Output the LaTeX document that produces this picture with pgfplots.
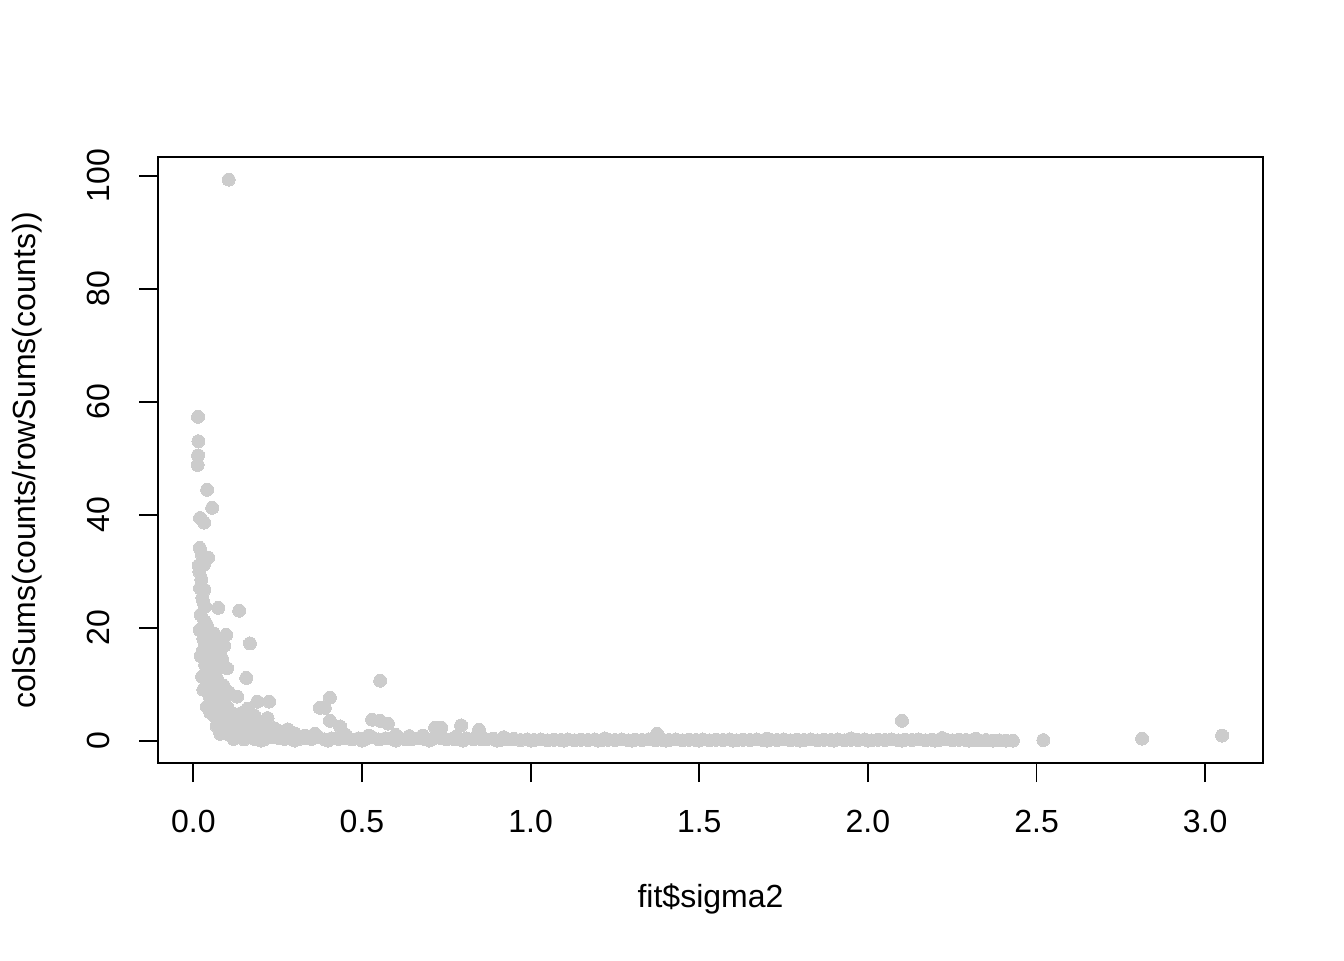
\documentclass[border=0pt]{standalone}
\usepackage{pgfplots}
\pgfplotsset{compat=1.18}
\usepackage{fontspec}
\setmainfont{Liberation Sans}
\definecolor{ptgray}{HTML}{CCCCCC}
\begin{document}
\begin{tikzpicture}
\begin{axis}[
  scale only axis,
  width=442pt, height=242.4pt,
  xmin=-0.1047, xmax=3.1714,
  ymin=-3.97, ymax=103.3,
  xtick={0,0.5,1,1.5,2,2.5,3},
  ytick={0,20,40,60,80,100},
  xtick pos=bottom, ytick pos=left,
  tick align=outside,
  major tick length=7.6pt,
  axis line style={line width=0.75pt},
  every tick/.style={line width=0.75pt, black},
  clip=false,
  font=\fontsize{12.8}{15.4}\selectfont,
  /pgf/number format/assume math mode=true,
  xticklabel style={/pgf/number format/.cd, fixed, fixed zerofill, precision=1, /tikz/.cd, anchor=base, inner sep=0pt},
  yticklabel style={rotate=90, anchor=south, inner sep=0pt},
  xticklabel shift=20.2pt,
  yticklabel shift=11.3pt,
  xlabel={fit\$sigma2},
  ylabel={colSums(counts/rowSums(counts))},
  xlabel style={at={(axis description cs:0.5,-0.2244)}, anchor=center, inner sep=0pt},
  ylabel style={at={(axis description cs:-0.1186,0.5)}, anchor=center, inner sep=0pt},
]
\path (rel axis cs:-0.14299,-0.3251) rectangle (rel axis cs:1.0733,1.2591);
\addplot[only marks, mark=*, mark size=2.6pt, mark options={fill=ptgray, draw=ptgray, line width=0pt}] table {
x y
0.25 0.5
0.27 0.3
0.29 0.6
0.31 0.2
0.33 0.5
0.35 0.3
0.37 0.7
0.39 0.2
0.41 0.4
0.43 0.3
0.45 0.5
0.47 0.2
0.49 0.4
0.51 0.3
0.53 0.6
0.55 0.2
0.57 0.4
0.59 0.3
0.61 0.5
0.63 0.2
0.65 0.3
0.67 0.4
0.69 0.2
0.71 0.3
0.73 0.5
0.75 0.2
0.77 0.3
0.79 0.2
0.81 0.4
0.83 0.2
0.85 0.3
0.87 0.2
0.89 0.3
0.91 0.1
0.93 0.2
0.95 0.3
0.97 0.1
0.99 0.2
1.01 0.1
1.03 0.2
1.05 0.05
1.07 0.15
1.09 0.1
1.11 0.2
1.13 0.05
1.15 0.15
1.17 0.1
1.19 0.2
1.21 0.05
1.23 0.15
1.25 0.1
1.27 0.2
1.29 0.05
1.31 0.15
1.33 0.1
1.35 0.2
1.37 0.05
1.39 0.15
1.41 0.1
1.43 0.2
1.45 0.05
1.47 0.15
1.49 0.1
1.51 0.2
1.53 0.05
1.55 0.15
1.57 0.1
1.59 0.2
1.61 0.05
1.63 0.15
1.65 0.1
1.67 0.2
1.69 0.05
1.71 0.15
1.73 0.1
1.75 0.2
1.77 0.05
1.79 0.15
1.81 0.1
1.83 0.2
1.85 0.05
1.87 0.15
1.89 0.1
1.91 0.2
1.93 0.05
1.95 0.15
1.97 0.1
1.99 0.2
2.01 0.05
2.03 0.15
2.05 0.1
2.07 0.2
2.09 0.05
2.11 0.15
2.13 0.1
2.15 0.2
2.17 0.05
2.19 0.15
2.21 0.1
2.23 0.2
2.25 0.05
2.27 0.15
2.29 0.1
2.31 0.1
2.33 0.05
2.35 0.1
2.37 0.0
2.39 0.05
2.41 0.0
2.43 0.0
0.2 0.0
0.3 0.0
0.4 0.0
0.5 0.0
0.6 0.0
0.7 0.0
0.8 0.0
0.9 0.0
1.0 0.0
1.1 0.0
1.2 0.0
1.3 0.0
1.4 0.0
1.5 0.0
1.6 0.0
1.7 0.0
1.8 0.0
1.9 0.0
2.0 0.0
2.1 0.0
2.2 0.0
2.3 0.0
1.38 0.4
1.95 0.4
2.22 0.45
2.32 0.3
0.36 1.0
0.45 1.1
0.52 0.9
0.60 1.0
0.64 0.8
0.68 0.9
0.78 0.7
0.84 0.8
0.92 0.6
1.22 0.4
1.70 0.35
0.014 57.3
0.015 53.0
0.014 50.5
0.013 48.8
0.041 44.4
0.056 41.2
0.020 39.4
0.032 38.6
0.019 34.1
0.025 33.0
0.044 32.4
0.031 31.1
0.018 29.9
0.024 28.5
0.033 26.7
0.027 25.3
0.035 23.7
0.074 23.5
0.136 23.0
0.022 22.3
0.033 21.1
0.019 19.6
0.047 18.6
0.097 18.7
0.168 17.2
0.033 16.5
0.080 15.9
0.022 15.0
0.064 14.9
0.092 16.8
0.056 13.8
0.035 13.4
0.080 13.1
0.044 12.2
0.026 11.3
0.157 11.1
0.554 10.6
0.056 10.1
0.035 9.4
0.064 9.0
0.106 8.5
0.130 7.8
0.405 7.6
0.067 7.3
0.058 6.4
0.190 6.9
0.225 6.9
0.375 5.8
0.390 5.8
0.530 3.7
0.554 3.5
0.577 3.0
0.405 3.5
0.435 2.5
0.717 2.3
0.735 2.3
0.794 2.7
0.847 1.9
2.101 3.5
1.375 1.2
3.050 0.9
2.813 0.35
2.520 0.1
0.105 99.3
0.040 20.5
0.030 18.0
0.045 17.0
0.050 15.5
0.040 14.0
0.060 12.0
0.070 11.0
0.050 10.8
0.045 8.5
0.075 8.2
0.090 7.0
0.050 5.0
0.060 4.5
0.070 3.8
0.080 5.5
0.100 6.0
0.110 5.0
0.120 4.2
0.140 4.8
0.150 3.5
0.160 5.6
0.180 4.5
0.200 3.2
0.220 4.0
0.210 2.5
0.070 2.5
0.090 2.0
0.100 1.5
0.120 2.8
0.130 1.5
0.150 1.8
0.170 1.2
0.190 1.6
0.230 1.4
0.250 1.8
0.270 1.0
0.300 1.3
0.330 0.9
0.360 1.2
0.280 2.0
0.240 2.2
0.085 3.0
0.095 4.2
0.110 3.4
0.130 3.0
0.160 2.8
0.180 2.2
0.080 1.2
0.110 0.9
0.140 0.7
0.170 0.6
0.200 0.8
0.230 0.6
0.260 0.5
0.060 6.8
0.075 6.2
0.090 9.7
0.100 8.0
0.065 16.3
0.070 17.5
0.085 14.5
0.100 12.8
0.030 9.0
0.040 6.0
0.050 7.5
0.028 15.8
0.038 11.8
0.048 9.8
0.020 27.0
0.016 31.0
0.030 24.5
0.060 19.0
0.120 0.3
0.150 0.2
0.180 0.3
0.210 0.2
};
\end{axis}
\end{tikzpicture}
\end{document}
